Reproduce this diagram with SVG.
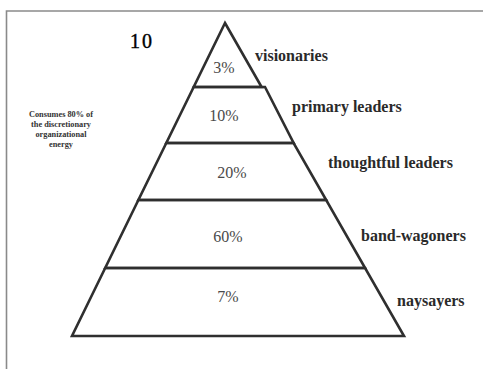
<svg xmlns="http://www.w3.org/2000/svg" width="483" height="369" viewBox="0 0 483 369">
<style>
.tier{fill:none;stroke:#2f2f2f;stroke-width:2.6;stroke-linejoin:miter}
.pct{font-family:"Liberation Serif",serif;font-size:16px;fill:#4a4a4a;text-anchor:middle}
.lbl{font-family:"Liberation Serif",serif;font-size:16px;font-weight:bold;fill:#2a2a2a}
.note{font-family:"Liberation Serif",serif;font-size:8.3px;font-weight:bold;fill:#333;text-anchor:middle}
.frame{stroke:#8a8a8a;stroke-width:1.6;fill:none}
</style>
<rect x="0" y="0" width="483" height="369" fill="#ffffff"/>
<g id="frame">
<path class="frame" d="M6.5,369 V11 H483"/>
</g>
<g id="page-number">
<text x="130" y="48" font-family="Liberation Serif,serif" font-size="20" letter-spacing="2" fill="#000" stroke="#000" stroke-width="0.4">10</text>
</g>
<g id="note">
<text class="note" x="61" y="116.5">Consumes 80% of</text>
<text class="note" x="61" y="126.5">the discretionary</text>
<text class="note" x="61" y="136.5">organizational</text>
<text class="note" x="61" y="146.5">energy</text>
</g>
<g id="visionaries">
<polygon class="tier" points="225,23 261.6,87 193.7,87"/>
<text class="pct" x="224" y="73">3%</text>
<text class="lbl" x="255" y="61">visionaries</text>
</g>
<g id="primary-leaders">
<polygon class="tier" points="193.7,87 265,87 293.6,143 166.3,143"/>
<text class="pct" x="224" y="121">10%</text>
<text class="lbl" x="292" y="112">primary leaders</text>
</g>
<g id="thoughtful-leaders">
<polygon class="tier" points="166.3,143 293.6,143 326.2,200 138.4,200"/>
<text class="pct" x="232" y="178">20%</text>
<text class="lbl" x="328" y="168">thoughtful leaders</text>
</g>
<g id="band-wagoners">
<polygon class="tier" points="138.4,200 326.2,200 365.1,268 105.2,268"/>
<text class="pct" x="228" y="242">60%</text>
<text class="lbl" x="361" y="241">band-wagoners</text>
</g>
<g id="naysayers">
<polygon class="tier" points="105.2,268 365.1,268 404,336 72,336"/>
<text class="pct" x="228" y="302">7%</text>
<text class="lbl" x="397" y="306">naysayers</text>
</g>
<g id="connectors"></g>
</svg>
